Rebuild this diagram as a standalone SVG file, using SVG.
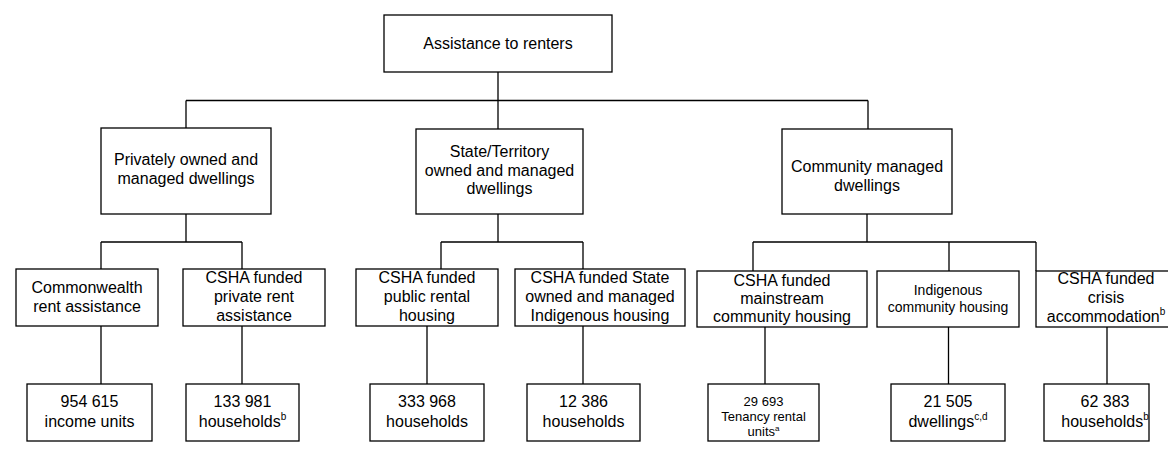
<svg xmlns="http://www.w3.org/2000/svg" width="1168" height="453" viewBox="0 0 1168 453">
<style>
.box{fill:#fff;stroke:#000;stroke-width:1.3}
.ln{fill:none;stroke:#000;stroke-width:1.3}
text{font-family:"Liberation Sans",Arial,sans-serif;font-size:16px;fill:#000;text-anchor:middle}
.s{font-size:14px}
.t{font-size:13px}
.sup{font-size:10px}
.sup2{font-size:8px}
</style>
<rect width="1168" height="453" fill="#fff"/>
<g id="connectors">
<path class="ln" d="M498,72V129M186,100.5H868M186,100.5V128M868,100.5V129"/>
<path class="ln" d="M186,214V242M101,242H242M101,242V269M242,242V269"/>
<path class="ln" d="M101,326V384M242,326V384"/>
<path class="ln" d="M498,214V242M441,242H583M441,242V269M583,242V269"/>
<path class="ln" d="M427,326V384M583,326V384"/>
<path class="ln" d="M867,214V242M753,242H1036M753,242V271M949,242V271M1036,242V271"/>
<path class="ln" d="M765,327V384M948.5,327V384M1107,327V384"/>
</g>
<g id="root"><rect class="box" x="384" y="15" width="228" height="57"/><text x="498" y="49">Assistance to renters</text></g>
<g id="private"><rect class="box" x="101" y="128" width="170" height="86"/><text x="186" y="165">Privately owned and</text><text x="186" y="184">managed dwellings</text></g>
<g id="state"><rect class="box" x="416" y="129" width="167" height="85"/><text x="499.5" y="157">State/Territory</text><text x="499.5" y="175.5">owned and managed</text><text x="499.5" y="194">dwellings</text></g>
<g id="community"><rect class="box" x="782" y="129" width="170" height="85"/><text x="867" y="172">Community managed</text><text x="867" y="190.5">dwellings</text></g>
<g id="cra"><rect class="box" x="16" y="269" width="142" height="57"/><text x="87" y="293">Commonwealth</text><text x="87" y="311.5">rent assistance</text></g>
<g id="cshapra"><rect class="box" x="183" y="269" width="142" height="57"/><text x="254" y="283">CSHA funded</text><text x="254" y="302">private rent</text><text x="254" y="321">assistance</text></g>
<g id="public"><rect class="box" x="356" y="269" width="142" height="57"/><text x="427" y="283">CSHA funded</text><text x="427" y="302">public rental</text><text x="427" y="321">housing</text></g>
<g id="soih"><rect class="box" x="515" y="269" width="170" height="57"/><text x="600" y="283">CSHA funded State</text><text x="600" y="302">owned and managed</text><text x="600" y="321">Indigenous housing</text></g>
<g id="mainstream"><rect class="box" x="697" y="271" width="170" height="56"/><text x="782" y="286">CSHA funded</text><text x="782" y="304">mainstream</text><text x="782" y="322">community housing</text></g>
<g id="ich"><rect class="box" x="877" y="271" width="142" height="56"/><text class="s" x="948" y="295">Indigenous</text><text class="s" x="948" y="311.5">community housing</text></g>
<g id="crisis"><rect class="box" x="1036" y="271" width="140" height="56"/><text x="1106" y="284">CSHA funded</text><text x="1106" y="302.5">crisis</text><text x="1106" y="321.5">accommodation<tspan class="sup" dy="-7">b</tspan></text></g>
<g id="v1"><rect class="box" x="27" y="384" width="125" height="57"/><text x="89.5" y="407">954 615</text><text x="89.5" y="426.5">income units</text></g>
<g id="v2"><rect class="box" x="186" y="384" width="113" height="57"/><text x="242.5" y="407">133 981</text><text x="242.5" y="426.5">households<tspan class="sup" dy="-7">b</tspan></text></g>
<g id="v3"><rect class="box" x="370" y="384" width="114" height="57"/><text x="427" y="407">333 968</text><text x="427" y="426.5">households</text></g>
<g id="v4"><rect class="box" x="527" y="384" width="113" height="57"/><text x="583.5" y="407">12 386</text><text x="583.5" y="426.5">households</text></g>
<g id="v5"><rect class="box" x="708" y="384" width="111" height="57"/><text class="t" x="763.5" y="406">29 693</text><text class="t" x="763.5" y="421">Tenancy rental</text><text class="t" x="763.5" y="435.5">units<tspan class="sup2" dy="-5">a</tspan></text></g>
<g id="v6"><rect class="box" x="891" y="384" width="114" height="57"/><text x="948" y="407">21 505</text><text x="948" y="426.5">dwellings<tspan class="sup" dy="-7">c,d</tspan></text></g>
<g id="v7"><rect class="box" x="1044" y="384" width="105" height="57"/><text x="1105" y="407">62 383</text><text x="1105" y="426.5">households<tspan class="sup" dy="-7">b</tspan></text></g>
</svg>
